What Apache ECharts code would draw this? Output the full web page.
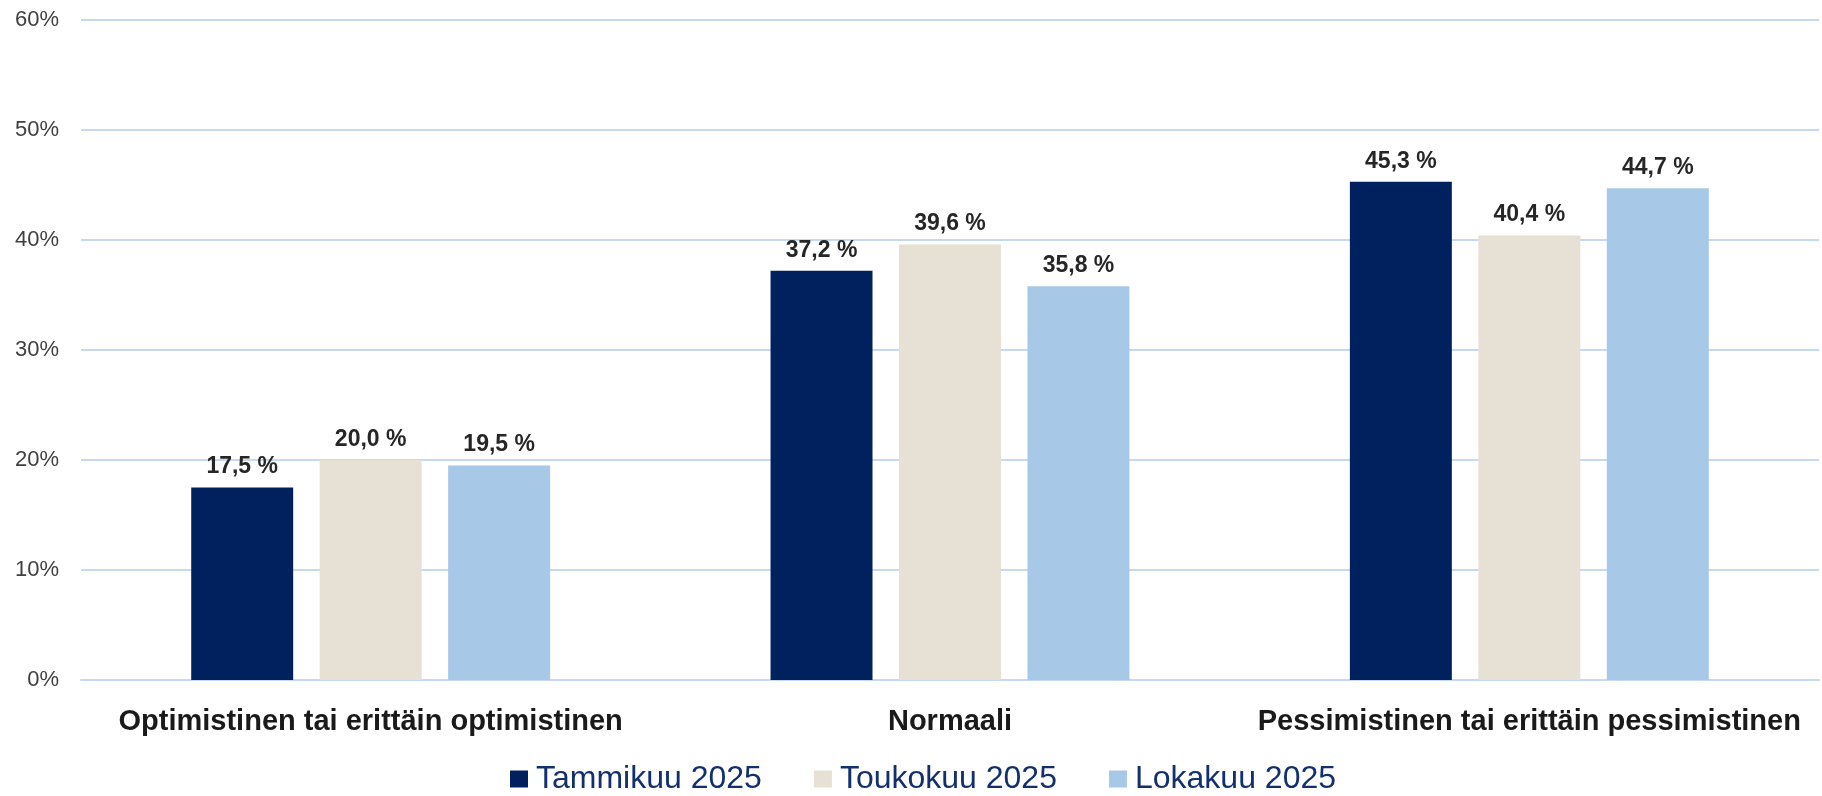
<!DOCTYPE html>
<html>
<head>
<meta charset="utf-8">
<script src="https://cdn.jsdelivr.net/npm/echarts@6/dist/echarts.min.js"></script>
<style>
  html, body { margin: 0; padding: 0; background: #fff; }
  #chart { width: 1822px; height: 796px; }
</style>
</head>
<body>
<div id="chart"></div>
<script>
var categories = ['Optimistinen tai erittäin optimistinen', 'Normaali', 'Pessimistinen tai erittäin pessimistinen'];
var seriesNames = ['Tammikuu 2025', 'Toukokuu 2025', 'Lokakuu 2025'];
var tammikuu = [17.5, 37.2, 45.3];
var toukokuu = [20.0, 39.6, 40.4];
var lokakuu = [19.5, 35.8, 44.7];
var colors = ['#00215E', '#E7E0D4', '#A7C8E6'];

var chart = echarts.init(document.getElementById('chart'));

function makeSeries(name, data, color) {
  return {
    name: name,
    type: 'bar',
    data: data,
    barWidth: '17.6%',
    barGap: '26%',
    itemStyle: { color: color },
    label: {
      show: true,
      position: 'top',
      distance: 9,
      fontFamily: 'Liberation Sans',
      fontWeight: 'bold',
      fontSize: 23,
      color: '#262626',
      formatter: function (p) {
        return p.value.toFixed(1).replace('.', ',') + ' %';
      }
    }
  };
}

var option = {
  backgroundColor: '#ffffff',
  animation: false,
  grid: { left: 81, right: 3, top: 20, bottom: 116, containLabel: false },
  legend: {
    data: seriesNames,
    left: 505,
    top: 758,
    itemWidth: 18,
    itemHeight: 17,
    itemGap: 52,
    icon: 'rect',
    textStyle: {
      fontFamily: 'Liberation Sans',
      fontSize: 32,
      color: '#13306E',
      padding: [0, 0, 0, 3]
    }
  },
  xAxis: {
    type: 'category',
    data: categories,
    axisLine: { show: true, lineStyle: { color: '#C5D9F1', width: 2 } },
    axisTick: { show: false },
    axisLabel: {
      margin: 27,
      fontFamily: 'Liberation Sans',
      fontWeight: 'bold',
      fontSize: 29,
      color: '#1A1A1A',
      interval: 0
    }
  },
  yAxis: {
    type: 'value',
    min: 0,
    max: 60,
    interval: 10,
    axisLine: { show: false },
    axisTick: { show: false },
    splitLine: { lineStyle: { color: '#C5D9F1', width: 2 } },
    axisLabel: {
      margin: 22,
      formatter: '{value}%',
      fontFamily: 'Liberation Sans',
      fontSize: 22,
      color: '#404040'
    }
  },
  series: [
    makeSeries(seriesNames[0], tammikuu, colors[0]),
    makeSeries(seriesNames[1], toukokuu, colors[1]),
    makeSeries(seriesNames[2], lokakuu, colors[2])
  ]
};

chart.setOption(option);
</script>
</body>
</html>
